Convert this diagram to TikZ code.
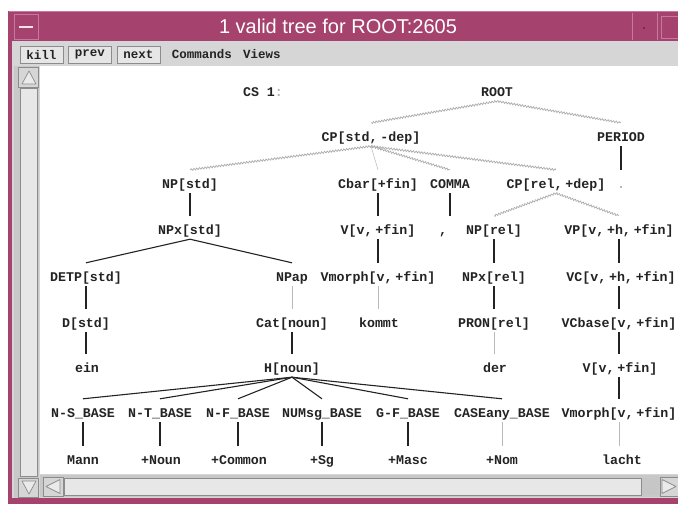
\documentclass[tikz,border=0pt]{standalone}
\usepackage{fontspec}
\setmainfont{Liberation Sans}
\newfontfamily\treefont[WordSpace=0.35]{Liberation Mono}
\newfontfamily\titlefont{Liberation Sans}
\usetikzlibrary{decorations.pathmorphing}
\definecolor{framecol}{RGB}{166,66,110}
\definecolor{framehi}{RGB}{200,120,158}
\definecolor{panel}{RGB}{214,214,214}
\definecolor{trough}{RGB}{200,200,200}
\definecolor{bevel}{RGB}{140,140,140}
\definecolor{ink}{RGB}{35,35,35}
\begin{document}
\begin{tikzpicture}[x=1pt,y=-1pt,
  lbl/.style={font={\treefont\bfseries\fontsize{13.3}{14}\selectfont}, text=ink,
              inner sep=0pt, text height=18pt, text depth=5pt, anchor=base},
  menu/.style={font={\treefont\bfseries\fontsize{12.5}{14}\selectfont}, text=ink, inner sep=0pt},
  btn/.style={menu, draw=bevel, fill=panel!60!white, line width=0.8pt,
              minimum width=43pt, minimum height=17pt},
  wavy/.style={draw=gray!65, line width=0.7pt, decorate,
               decoration={zigzag, amplitude=0.9pt, segment length=2.8pt}},
  firm/.style={draw=ink, line width=1.1pt},
  faint/.style={draw=gray!55, line width=0.5pt},
  arrowbox/.style={fill=panel, draw=bevel, line width=0.6pt},
  arrowtri/.style={fill=panel!50!white, draw=bevel, line width=0.7pt, line join=round}]
\useasboundingbox (0,0) rectangle (678,504);
\fill[white] (0,0) rectangle (678,504);

% window frame and title bar
\fill[framecol] (8,11) rectangle (678,504);
\draw[framehi, line width=0.8pt] (8.5,11.5) -- (678,11.5);
\draw[framehi, line width=0.6pt] (14,14) rectangle (38,39);
\draw[white!85!framecol, line width=1.6pt] (19,27) -- (33,27);
\draw[framehi, line width=0.8pt] (632,13) -- (632,40);
\draw[framehi, line width=0.8pt] (657,13) -- (657,40);
\fill[framecol!60!black] (644,28) circle (1.2pt);
\draw[framehi, line width=0.8pt] (661,16) rectangle (680,38);
\node[font={\titlefont\fontsize{20}{24}\selectfont}, text=white, inner sep=0pt] (title) at (338,26) {1 valid tree for ROOT:2605};

% client area, menu bar
\fill[panel] (12,41) rectangle (678,498);
\node[btn] (kill) at (41.5,54.5) {kill};
\node[btn] (prev) at (90,54.5) {prev};
\node[btn] (next) at (138.5,54.5) {next};
\node[menu] (commands) at (202,54.5) {Commands};
\node[menu] (views) at (262,54.5) {Views};

% canvas
\fill[white] (40,66) rectangle (678,474);

% vertical scrollbar
\fill[trough] (14,66) rectangle (39,498);
\fill[panel!60!white] (20,88) rectangle (37,476);
\draw[bevel, line width=0.6pt] (20,88) rectangle (37,476);
\draw[arrowbox] (18,67) rectangle (38,87);
\draw[arrowtri] (22,84) -- (29,71) -- (36,84) -- cycle;
\draw[arrowbox] (18,478) rectangle (38,497);
\draw[arrowtri] (22,481) -- (29,494) -- (36,481) -- cycle;

% horizontal scrollbar
\fill[trough] (40,475) rectangle (678,497);
\fill[panel!60!white] (64,478) rectangle (641,495);
\draw[bevel, line width=0.6pt] (64,478) rectangle (641,495);
\fill[gray!45] (642,478) rectangle (659,495);
\draw[arrowbox] (43,477) rectangle (63,496);
\draw[arrowtri] (60,479.5) -- (46,486.5) -- (60,493.5) -- cycle;
\draw[arrowbox] (660,477) rectangle (680,496);
\draw[arrowtri] (662,479.5) -- (676,486.5) -- (662,493.5) -- cycle;

% ---- tree labels ----
\node[lbl] (cs) at (263,96) {CS\hspace{5pt} 1\textcolor{gray!60}{:}};
\node[lbl] (root) at (497,96) {ROOT};

\node[lbl] (cpstd) at (371,141) {CP[std, -dep]};
\node[lbl] (period) at (621,141) {PERIOD};

\node[lbl] (npstd) at (190,188) {NP[std]};
\node[lbl] (cbar) at (378,188) {Cbar[+fin]};
\node[lbl] (comma) at (450,188) {COMMA};
\node[lbl] (cprel) at (556,188) {CP[rel, +dep]};
\node[lbl, text=gray!60] (dot) at (621,188) {.};

\node[lbl] (npxstd) at (190,234) {NPx[std]};
\node[lbl] (vfinA) at (378,234) {V[v, +fin]};
\node[lbl] (commasym) at (443,234) {,};
\node[lbl] (nprel) at (494,234) {NP[rel]};
\node[lbl] (vp) at (619,234) {VP[v, +h, +fin]};

\node[lbl] (detp) at (86,281) {DETP[std]};
\node[lbl] (npap) at (292,281) {NPap};
\node[lbl] (vmorphA) at (378,281) {Vmorph[v, +fin]};
\node[lbl] (npxrel) at (494,281) {NPx[rel]};
\node[lbl] (vc) at (621,281) {VC[v, +h, +fin]};

\node[lbl] (dstd) at (86,327) {D[std]};
\node[lbl] (cat) at (292,327) {Cat[noun]};
\node[lbl] (kommt) at (379,327) {kommt};
\node[lbl] (pron) at (494,327) {PRON[rel]};
\node[lbl] (vcbase) at (619,327) {VCbase[v, +fin]};

\node[lbl] (ein) at (87,372) {ein};
\node[lbl] (hnoun) at (292,372) {H[noun]};
\node[lbl] (der) at (495,372) {der};
\node[lbl] (vfinB) at (620,372) {V[v, +fin]};

\node[lbl] (ns) at (83,417) {N-S\_BASE};
\node[lbl] (nt) at (160,417) {N-T\_BASE};
\node[lbl] (nf) at (238,417) {N-F\_BASE};
\node[lbl] (num) at (322,417) {NUMsg\_BASE};
\node[lbl] (gf) at (408,417) {G-F\_BASE};
\node[lbl] (case) at (502,417) {CASEany\_BASE};
\node[lbl] (vmorphB) at (619,417) {Vmorph[v, +fin]};

\node[lbl] (mann) at (83,464) {Mann};
\node[lbl] (noun) at (161,464) {+Noun};
\node[lbl] (common) at (239,464) {+Common};
\node[lbl] (sg) at (322,464) {+Sg};
\node[lbl] (masc) at (408,464) {+Masc};
\node[lbl] (nom) at (502,464) {+Nom};
\node[lbl] (lacht) at (622,464) {lacht};

% ---- connectors ----
% straight drops run at the parent's x position
\draw[wavy] (root.south) -- (cpstd.north);
\draw[wavy] (root.south) -- (period.north);
\draw[firm] (period.south) -- (period.south |- dot.north);

\draw[wavy] (cpstd.south) -- (npstd.north);
\draw[faint] (cpstd.south) -- (cbar.north);
\draw[wavy] (cpstd.south) -- (comma.north);
\draw[wavy] (cpstd.south) -- (cprel.north);

\draw[firm] (npstd.south) -- (npstd.south |- npxstd.north);
\draw[firm] (cbar.south) -- (cbar.south |- vfinA.north);
\draw[firm] (comma.south) -- (comma.south |- commasym.north);
\draw[wavy] (cprel.south) -- (nprel.north);
\draw[wavy] (cprel.south) -- (vp.north);

\draw[firm] (npxstd.south) -- (detp.north);
\draw[firm] (npxstd.south) -- (npap.north);
\draw[firm] (vfinA.south) -- (vfinA.south |- vmorphA.north);
\draw[firm] (nprel.south) -- (nprel.south |- npxrel.north);
\draw[firm] (vp.south) -- (vp.south |- vc.north);

\draw[firm] (detp.south) -- (detp.south |- dstd.north);
\draw[faint] (npap.south) -- (npap.south |- cat.north);
\draw[faint] (vmorphA.south) -- (vmorphA.south |- kommt.north);
\draw[firm] (npxrel.south) -- (npxrel.south |- pron.north);
\draw[firm] (vp.south |- vc.south) -- (vp.south |- vcbase.north);

\draw[firm] (detp.south |- dstd.south) -- (detp.south |- ein.north);
\draw[firm] (cat.south) -- (cat.south |- hnoun.north);
\draw[faint] (pron.south) -- (pron.south |- der.north);
\draw[firm] (vp.south |- vcbase.south) -- (vp.south |- vfinB.north);

\foreach \c in {ns,nt,nf,num,gf,case}
  \draw[firm] (hnoun.south) -- (\c.north);
\draw[firm] (vp.south |- vfinB.south) -- (vp.south |- vmorphB.north);

\draw[firm] (ns.south) -- (ns.south |- mann.north);
\draw[firm] (nt.south) -- (nt.south |- noun.north);
\draw[firm] (nf.south) -- (nf.south |- common.north);
\draw[firm] (num.south) -- (num.south |- sg.north);
\draw[firm] (gf.south) -- (gf.south |- masc.north);
\draw[faint] (case.south) -- (case.south |- nom.north);
\draw[faint] (vp.south |- vmorphB.south) -- (vp.south |- lacht.north);
\end{tikzpicture}
\end{document}
